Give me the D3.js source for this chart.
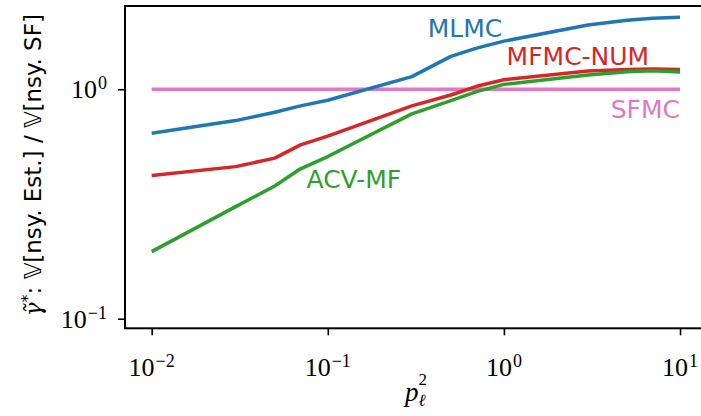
<!DOCTYPE html>
<html>
<head>
<meta charset="utf-8">
<script src="https://cdnjs.cloudflare.com/ajax/libs/d3/7.8.5/d3.min.js"></script>
<style>
    body { margin: 0; background: #fff; }
    svg { display: block; }
</style>
</head>
<body>
<svg id="chart"></svg>
<script>

// p_l^2 values (x axis)
var pValues = [0.01, 0.03, 0.05, 0.07, 0.1, 0.3, 0.5, 0.7, 1, 3, 5, 7, 10];

// variance ratios
var mlmc    = [0.643, 0.730, 0.794, 0.846, 0.895, 1.135, 1.39, 1.51, 1.62, 1.905, 2.00, 2.04, 2.06];
var mfmcNum = [0.421, 0.460, 0.501, 0.572, 0.625, 0.846, 0.944, 1.03, 1.10, 1.20, 1.22, 1.225, 1.22];
var acvMf   = [0.196, 0.308, 0.379, 0.450, 0.509, 0.781, 0.892, 0.976, 1.05, 1.154, 1.193, 1.205, 1.19];
var sfmc    = [1, 1, 1, 1, 1, 1, 1, 1, 1, 1, 1, 1, 1];

var seriesNames  = ["SFMC", "MLMC", "MFMC-NUM", "ACV-MF"];
var seriesValues = [sfmc, mlmc, mfmcNum, acvMf];
var seriesColors = ["#e377c2", "#1f77b4", "#d62728", "#2ca02c"];

// where the inline labels sit, in data coordinates
var labelX = [10, 0.369, 1.036, 0.0757];
var labelY = [0.748, 1.694, 1.276, 0.371];
var labelAnchor = ["end", "start", "start", "start"];

var xTickExp = [-2, -1, 0, 1];
var yTickExp = [-1, 0];

var width = 701, height = 416;
var plot = {left: 125, right: 706.7, top: 6, bottom: 328.3};

var svg = d3.select("#chart")
    .attr("width", width)
    .attr("height", height);

var x = d3.scaleLog()
    .domain([Math.pow(10, -2.1514), Math.pow(10, 1.1514)])
    .range([plot.left, plot.right]);

var y = d3.scaleLog()
    .domain([Math.pow(10, -1.0418), Math.pow(10, 0.3627)])
    .range([plot.bottom, plot.top]);

// minor ticks inside the domain
function minorTicks(scale) {
    var d = scale.domain(), out = [];
    for (var e = -4; e <= 3; e++) {
        for (var m = 2; m <= 9; m++) {
            var v = m * Math.pow(10, e);
            if (v >= d[0] && v <= d[1]) out.push(v);
        }
    }
    return out;
}

var xMajor = xTickExp.map(function (e) { return Math.pow(10, e); });
var yMajor = yTickExp.map(function (e) { return Math.pow(10, e); });

svg.append("clipPath").attr("id", "clip")
    .append("rect")
    .attr("x", plot.left)
    .attr("y", plot.top)
    .attr("width", plot.right - plot.left)
    .attr("height", plot.bottom - plot.top);

// lines
var line = d3.line()
    .x(function (d) { return x(d[0]); })
    .y(function (d) { return y(d[1]); });

svg.append("g")
    .attr("clip-path", "url(#clip)")
    .selectAll("path")
    .data(seriesValues)
    .enter()
    .append("path")
    .attr("d", function (vals) {
        return line(vals.map(function (v, i) { return [pValues[i], v]; }));
    })
    .attr("fill", "none")
    .attr("stroke", function (d, i) { return seriesColors[i]; })
    .attr("stroke-width", 3.5)
    .attr("stroke-linejoin", "round");

// inline labels
svg.append("g")
    .selectAll("text")
    .data(seriesNames)
    .enter()
    .append("text")
    .attr("x", function (d, i) { return x(labelX[i]); })
    .attr("y", function (d, i) { return y(labelY[i]); })
    .attr("text-anchor", function (d, i) { return labelAnchor[i]; })
    .attr("fill", function (d, i) { return seriesColors[i]; })
    .style("font-family", "DejaVu Sans")
    .style("font-size", "25px")
    .text(function (d) { return d; });

// axes
var xAxisG = svg.append("g")
    .attr("transform", "translate(0," + plot.bottom + ")");
xAxisG.call(d3.axisBottom(x).tickValues(minorTicks(x)).tickSize(4).tickFormat(""));
xAxisG.call(d3.axisBottom(x).tickValues(xMajor).tickSize(7).tickFormat(""));

var yAxisG = svg.append("g")
    .attr("transform", "translate(" + plot.left + ",0)");
yAxisG.call(d3.axisLeft(y).tickValues(minorTicks(y)).tickSize(4).tickFormat(""));
yAxisG.call(d3.axisLeft(y).tickValues(yMajor).tickSize(7).tickFormat(""));

svg.selectAll(".domain").remove();
svg.selectAll(".tick line")
    .attr("stroke", "#000")
    .attr("stroke-width", 1.6);

// frame
svg.append("rect")
    .attr("x", plot.left)
    .attr("y", plot.top)
    .attr("width", plot.right - plot.left)
    .attr("height", plot.bottom - plot.top)
    .attr("fill", "none")
    .attr("stroke", "#000")
    .attr("stroke-width", 2);

// tick labels as 10^e
function powerLabel(sel, e) {
    sel.append("tspan").text("10");
    sel.append("tspan")
        .attr("dy", -9)
        .attr("dx", 1)
        .style("font-size", "18px")
        .text(e < 0 ? "\u2212" + (-e) : String(e));
}

xTickExp.forEach(function (e) {
    var t = svg.append("text")
        .attr("x", x(Math.pow(10, e)))
        .attr("y", plot.bottom + 48)
        .attr("text-anchor", "middle")
        .style("font-family", "Liberation Serif")
        .style("font-size", "26px");
    powerLabel(t, e);
});

yTickExp.forEach(function (e) {
    var t = svg.append("text")
        .attr("x", plot.left - 18)
        .attr("y", y(Math.pow(10, e)) + 9)
        .attr("text-anchor", "end")
        .style("font-family", "Liberation Serif")
        .style("font-size", "26px");
    powerLabel(t, e);
});

// x label: p_l^2 (sub and sup stacked)
var xl = svg.append("text")
    .attr("x", 405)
    .attr("y", 401)
    .style("font-family", "Liberation Serif")
    .style("font-size", "27px");
xl.append("tspan").style("font-style", "italic").text("p");
xl.append("tspan").attr("dy", 5).style("font-size", "17px").style("font-style", "italic").text("\u2113");
xl.append("tspan").attr("dx", -7).attr("dy", -21).style("font-size", "17px").text("2");

// y label
var yl = svg.append("text")
    .attr("transform", "translate(41," + ((plot.top + plot.bottom) / 2 - 2) + ") rotate(-90)")
    .attr("text-anchor", "middle")
    .style("font-family", "DejaVu Sans")
    .style("font-size", "23px");
yl.append("tspan").style("font-family", "DejaVu Serif").style("font-style", "italic").text("\u03b3\u0303");
yl.append("tspan").attr("dy", -8).style("font-size", "16px").text("*");
yl.append("tspan").attr("dy", 8).text(": \ud835\udd4d[nsy. Est.] / \ud835\udd4d[nsy. SF]");

</script>
</body>
</html>
